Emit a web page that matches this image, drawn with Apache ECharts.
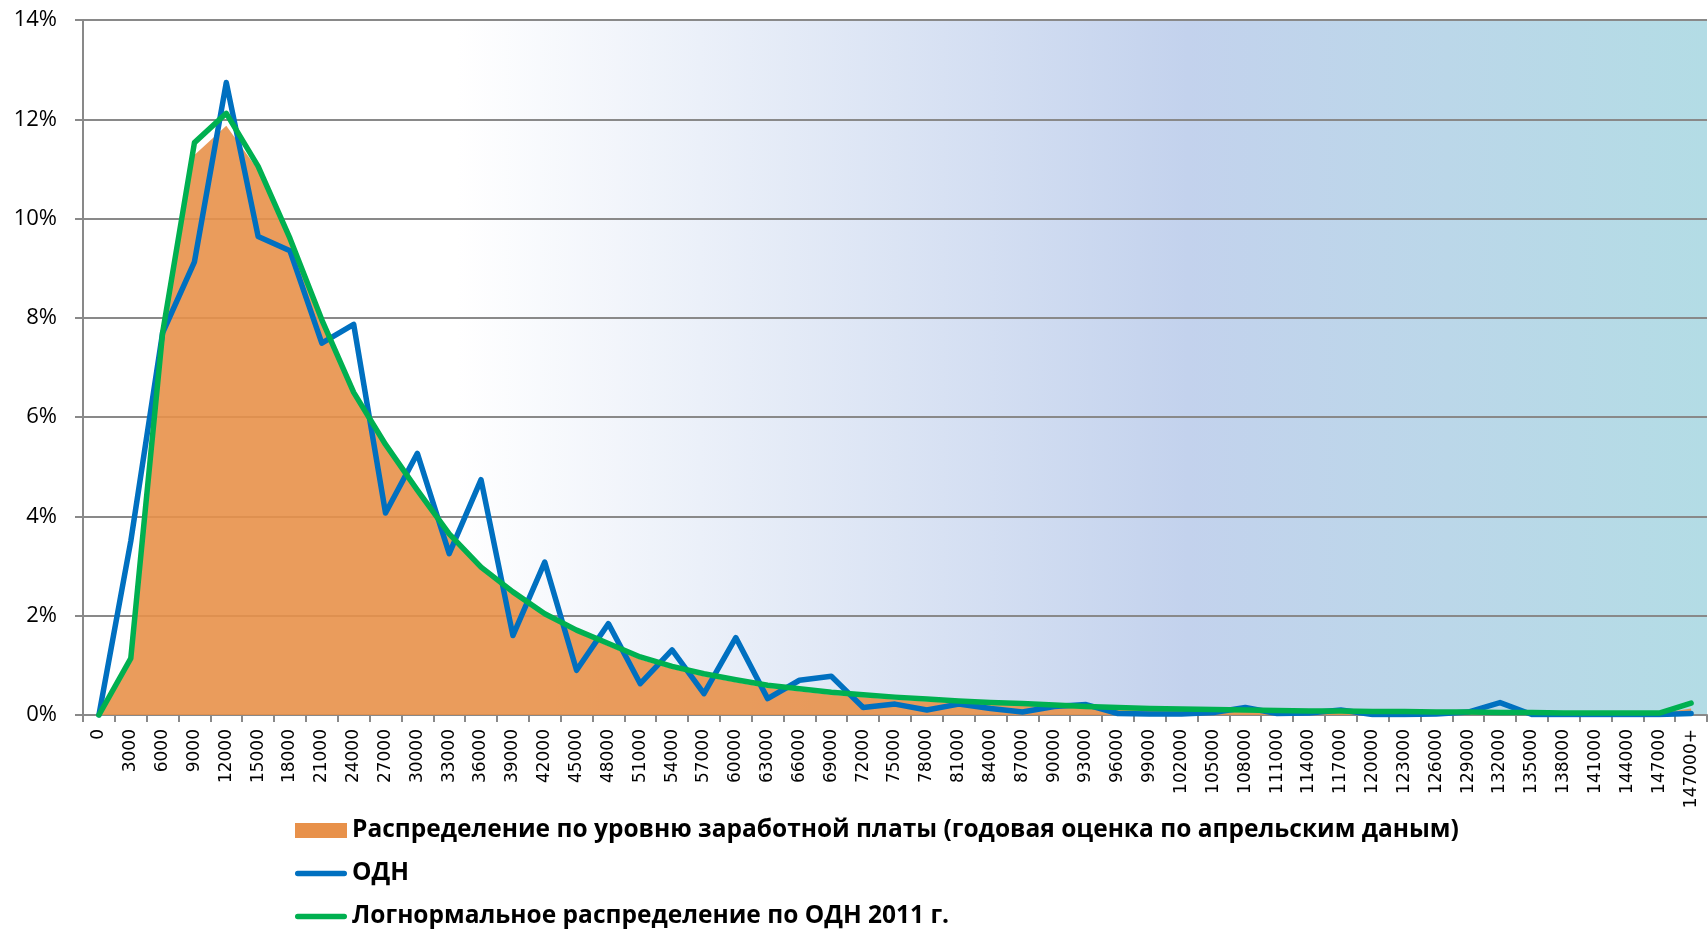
<!DOCTYPE html>
<html>
<head>
<meta charset="utf-8">
<script src="https://cdn.jsdelivr.net/npm/echarts@6/dist/echarts.min.js"></script>
<style>
  html, body { margin: 0; padding: 0; background: #fff; }
  #main { width: 1708px; height: 930px; }
</style>
</head>
<body>
<div id="main"></div>
<script>
// подписи оси X (уровень зарплаты)
const categories = [
  '0', '3000', '6000', '9000', '12000', '15000', '18000', '21000', '24000', '27000',
  '30000', '33000', '36000', '39000', '42000', '45000', '48000', '51000', '54000', '57000',
  '60000', '63000', '66000', '69000', '72000', '75000', '78000', '81000', '84000', '87000',
  '90000', '93000', '96000', '99000', '102000', '105000', '108000', '111000', '114000', '117000',
  '120000', '123000', '126000', '129000', '132000', '135000', '138000', '141000', '144000', '147000',
  '147000+'
]

// распределение по уровню заработной платы, %
const salaryDist = [
  0, 1.1, 7.6, 11.28, 11.87, 10.98, 9.52, 7.92, 6.45, 5.4,
  4.48, 3.6, 2.93, 2.43, 2.0, 1.66, 1.39, 1.12, 0.93, 0.78,
  0.66, 0.55, 0.48, 0.41, 0.36, 0.31, 0.27, 0.24, 0.21, 0.19,
  0.16, 0.14, 0.12, 0.1, 0.09, 0.08, 0.07, 0.07, 0.06, 0.06,
  0.05, 0.05, 0.04, 0.04, 0.04, 0.03, 0.03, 0.03, 0.03, 0.03,
  0.13
]

// ОДН, %
const odn = [
  0, 3.5, 7.7, 9.13, 12.74, 9.64, 9.35, 7.49, 7.87, 4.07,
  5.27, 3.25, 4.74, 1.6, 3.08, 0.9, 1.84, 0.63, 1.31, 0.43,
  1.56, 0.33, 0.7, 0.78, 0.15, 0.22, 0.1, 0.22, 0.13, 0.06,
  0.17, 0.21, 0.03, 0.02, 0.02, 0.05, 0.15, 0.03, 0.04, 0.1,
  0.01, 0.01, 0.02, 0.06, 0.25, 0.01, 0.01, 0.01, 0.01, 0.01,
  0.03
]

// логнормальное распределение по ОДН 2011 г., %
const lognorm = [
  0, 1.14, 7.7, 11.53, 12.12, 11.05, 9.6, 7.96, 6.5, 5.45,
  4.53, 3.65, 2.98, 2.48, 2.04, 1.71, 1.44, 1.17, 0.98, 0.83,
  0.71, 0.6, 0.53, 0.46, 0.41, 0.36, 0.32, 0.28, 0.25, 0.23,
  0.2, 0.17, 0.15, 0.13, 0.12, 0.11, 0.1, 0.09, 0.08, 0.08,
  0.07, 0.07, 0.06, 0.06, 0.05, 0.05, 0.04, 0.04, 0.04, 0.04,
  0.24
]

const names = [
  'Распределение по уровню заработной платы (годовая оценка по апрельским даным)',
  'ОДН',
  'Логнормальное распределение по ОДН 2011 г.'
]

const myChart = echarts.init(document.getElementById('main'))

const gridColor = '#898989'
// значок линии в легенде — толстая линия с круглыми концами
const lineIcon = 'path://M3,0L55,0A3,3,0,0,1,55,6L3,6A3,3,0,0,1,3,0Z'

const option = {
  animation: false,
  grid: {
    left: 83,
    right: 1,
    top: 20,
    bottom: 215,
    show: true,
    borderWidth: 0,
    backgroundColor: new echarts.graphic.LinearGradient(0, 0, 1, 0, [
      { offset: 0, color: '#ffffff' },
      { offset: 0.23, color: '#ffffff' },
      { offset: 0.68, color: '#c3d2ed' },
      { offset: 1, color: '#b3dce5' }
    ])
  },
  legend: {
    orient: 'vertical',
    left: 295,
    top: 818,
    padding: 0,
    itemWidth: 52,
    itemHeight: 15,
    itemGap: 18,
    textStyle: {
      fontFamily: 'Open Sans',
      fontWeight: 'bold',
      fontSize: 24.5,
      lineHeight: 25,
      color: '#000'
    },
    data: [
      { name: names[0], icon: 'rect' },
      { name: names[1], icon: lineIcon },
      { name: names[2], icon: lineIcon }
    ]
  },
  xAxis: {
    type: 'category',
    data: categories,
    boundaryGap: true,
    axisLine: { show: true, lineStyle: { color: gridColor, width: 2 } },
    axisTick: { show: true, length: 7, lineStyle: { color: gridColor, width: 2 } },
    axisLabel: {
      interval: 0,
      rotate: 90,
      margin: 14,
      fontFamily: 'DejaVu Sans',
      fontSize: 17,
      color: '#000'
    },
    splitLine: { show: false }
  },
  yAxis: {
    type: 'value',
    min: 0,
    max: 14,
    interval: 2,
    axisLine: { show: true, lineStyle: { color: gridColor, width: 2 } },
    axisTick: { show: true, length: 8, lineStyle: { color: gridColor, width: 2 } },
    axisLabel: {
      formatter: '{value}%',
      margin: 26,
      fontFamily: 'Open Sans',
      fontSize: 22,
      color: '#000'
    },
    splitLine: { show: true, lineStyle: { color: gridColor, width: 2 } }
  },
  series: [
    {
      name: names[0],
      type: 'line',
      data: salaryDist,
      symbol: 'none',
      lineStyle: { width: 0 },
      itemStyle: { color: '#e8914a' },
      areaStyle: { color: '#e8914a', opacity: 0.9 }
    },
    {
      name: names[1],
      type: 'line',
      data: odn,
      symbol: 'none',
      itemStyle: { color: '#0070c0' },
      lineStyle: { color: '#0070c0', width: 5.5, cap: 'round', join: 'round' }
    },
    {
      name: names[2],
      type: 'line',
      data: lognorm,
      symbol: 'none',
      itemStyle: { color: '#00b050' },
      lineStyle: { color: '#00b050', width: 5.5, cap: 'round', join: 'round' }
    }
  ]
}

myChart.setOption(option)
</script>
</body>
</html>
